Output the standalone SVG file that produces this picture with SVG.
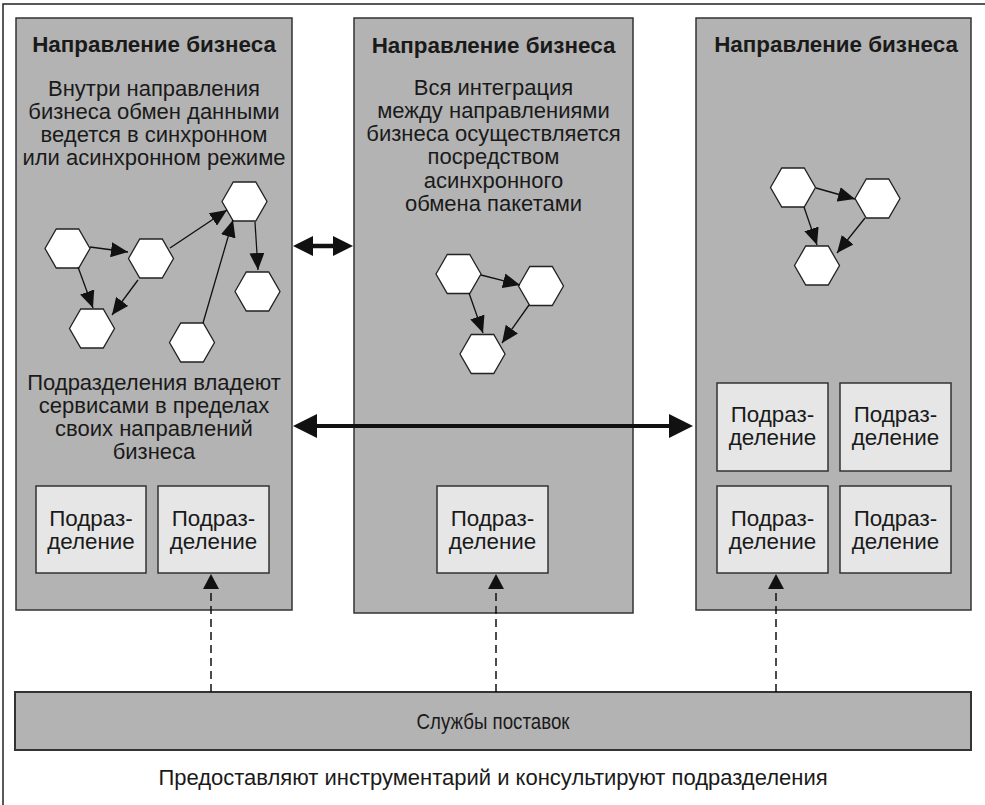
<svg xmlns="http://www.w3.org/2000/svg" xmlns:xlink="http://www.w3.org/1999/xlink" width="985" height="805" viewBox="0 0 985 805">
  <style>
    .frame { fill: none; stroke: #222; stroke-width: 1.5; }
    .panel { fill: #b3b3b3; stroke: #333; stroke-width: 1.5; }
    .unit { fill: #e6e6e6; stroke: #333; stroke-width: 1.5; }
    .bar { fill: #b3b3b3; stroke: #333; stroke-width: 2; }
    .hex { fill: #fff; stroke: #222; stroke-width: 1.3; }
    .title { font-family: "Liberation Sans", Arial, sans-serif; font-weight: bold; font-size: 22.4px; fill: #1a1a1a; text-anchor: middle; }
    .body { font-family: "Liberation Sans", Arial, sans-serif; font-size: 22px; fill: #1a1a1a; text-anchor: middle; }
    .small { font-family: "Liberation Sans", Arial, sans-serif; font-size: 22.4px; fill: #1a1a1a; text-anchor: middle; }
    .barlabel { font-family: "Liberation Sans", Arial, sans-serif; font-size: 22px; fill: #1a1a1a; text-anchor: middle; }
    .note { font-family: "Liberation Sans", Arial, sans-serif; font-size: 22px; fill: #1a1a1a; text-anchor: middle; }
    .link { stroke: #111; stroke-width: 1.3; fill: none; marker-end: url(#ah); }
    .dash { stroke: #111; stroke-width: 1.5; fill: none; stroke-dasharray: 8 5; marker-end: url(#ahd); }
    .thick { stroke: #111; fill: none; }
    .head { fill: #111; }
  </style>
  <defs>
    <polygon id="hex" points="-22.5,0 -11.25,-19.5 11.25,-19.5 22.5,0 11.25,19.5 -11.25,19.5"/>
    <marker id="ah" markerWidth="17" markerHeight="15" refX="17" refY="7.5" orient="auto" markerUnits="userSpaceOnUse">
      <path d="M0,0 L17,7.5 L0,15 Z" fill="#111"/>
    </marker>
    <marker id="ahd" markerWidth="16" markerHeight="16" refX="0" refY="8" orient="auto" markerUnits="userSpaceOnUse">
      <path d="M0,0 L15,8 L0,16 Z" fill="#111"/>
    </marker>
  </defs>

  <rect width="985" height="805" fill="#fff"/>
  <!-- outer frame (open to the right and bottom edges) -->
  <path class="frame" d="M985,4 H3 V805"/>

  <!-- business line 1 -->
  <g id="line-left">
    <rect class="panel" x="16" y="18" width="276" height="592"/>
    <text class="title" x="154" y="52">Направление бизнеса</text>
    <text class="body" x="154" y="95.5">Внутри направления</text>
    <text class="body" x="154" y="118.8">бизнеса обмен данными</text>
    <text class="body" x="154" y="142.1">ведется в синхронном</text>
    <text class="body" x="154" y="165.4">или асинхронном режиме</text>
    <use href="#hex" class="hex" x="67.5" y="248.5"/>
    <use href="#hex" class="hex" x="151" y="258.5"/>
    <use href="#hex" class="hex" x="92" y="328.5"/>
    <use href="#hex" class="hex" x="244.5" y="201.5"/>
    <use href="#hex" class="hex" x="257.5" y="291.5"/>
    <use href="#hex" class="hex" x="192" y="342.5"/>
    <text class="body" x="154" y="389.5">Подразделения владеют</text>
    <text class="body" x="154" y="412.8">сервисами в пределах</text>
    <text class="body" x="154" y="436.1">своих направлений</text>
    <text class="body" x="154" y="459.4">бизнеса</text>
  </g>
  <g id="unit-left-1">
    <rect class="unit" x="36" y="486" width="110" height="87"/>
    <text class="small" x="91" y="525.5">Подраз-</text>
    <text class="small" x="91" y="548.5">деление</text>
  </g>
  <g id="unit-left-2">
    <rect class="unit" x="158" y="486" width="111" height="87"/>
    <text class="small" x="213.5" y="525.5">Подраз-</text>
    <text class="small" x="213.5" y="548.5">деление</text>
  </g>

  <!-- business line 2 -->
  <g id="line-middle">
    <rect class="panel" x="354" y="18" width="279" height="595"/>
    <text class="title" x="493.5" y="52.5">Направление бизнеса</text>
    <text class="body" x="493.5" y="94.5">Вся интеграция</text>
    <text class="body" x="493.5" y="117.8">между направлениями</text>
    <text class="body" x="493.5" y="141.1">бизнеса осуществляется</text>
    <text class="body" x="493.5" y="164.4">посредством</text>
    <text class="body" x="493.5" y="187.7">асинхронного</text>
    <text class="body" x="493.5" y="211">обмена пакетами</text>
    <use href="#hex" class="hex" x="458.5" y="274"/>
    <use href="#hex" class="hex" x="541" y="286"/>
    <use href="#hex" class="hex" x="482.5" y="354"/>
  </g>
  <g id="unit-middle">
    <rect class="unit" x="437" y="486" width="111" height="87"/>
    <text class="small" x="492.5" y="525.5">Подраз-</text>
    <text class="small" x="492.5" y="548.5">деление</text>
  </g>

  <!-- business line 3 -->
  <g id="line-right">
    <rect class="panel" x="696" y="18" width="275" height="592"/>
    <text class="title" x="836" y="52">Направление бизнеса</text>
    <use href="#hex" class="hex" x="793" y="187.5"/>
    <use href="#hex" class="hex" x="877.5" y="198.5"/>
    <use href="#hex" class="hex" x="817" y="265.5"/>
  </g>
  <g id="unit-right-1">
    <rect class="unit" x="717" y="383" width="111" height="88"/>
    <text class="small" x="772.5" y="421.5">Подраз-</text>
    <text class="small" x="772.5" y="444.5">деление</text>
  </g>
  <g id="unit-right-2">
    <rect class="unit" x="840" y="383" width="111" height="88"/>
    <text class="small" x="895.5" y="421.5">Подраз-</text>
    <text class="small" x="895.5" y="444.5">деление</text>
  </g>
  <g id="unit-right-3">
    <rect class="unit" x="717" y="486" width="111" height="87"/>
    <text class="small" x="772.5" y="525.5">Подраз-</text>
    <text class="small" x="772.5" y="548.5">деление</text>
  </g>
  <g id="unit-right-4">
    <rect class="unit" x="840" y="486" width="111" height="87"/>
    <text class="small" x="895.5" y="525.5">Подраз-</text>
    <text class="small" x="895.5" y="548.5">деление</text>
  </g>

  <!-- delivery services -->
  <g id="delivery">
    <rect class="bar" x="15" y="692" width="956" height="58"/>
    <text class="barlabel" x="493" y="729" textLength="153" lengthAdjust="spacingAndGlyphs">Службы поставок</text>
  </g>

  <g id="caption">
    <text class="note" x="493" y="785">Предоставляют инструментарий и консультируют подразделения</text>
  </g>

  <g id="connectors">
    <!-- services inside line 1 -->
    <line class="link" x1="90" y1="247" x2="128" y2="252"/>
    <line class="link" x1="78" y1="267" x2="93" y2="308"/>
    <line class="link" x1="138" y1="280" x2="112" y2="315"/>
    <line class="link" x1="170" y1="248" x2="227" y2="210"/>
    <line class="link" x1="203" y1="323" x2="233" y2="220"/>
    <line class="link" x1="255" y1="222" x2="258" y2="270"/>
    <!-- services inside line 2 -->
    <line class="link" x1="481" y1="275" x2="520" y2="285"/>
    <line class="link" x1="469" y1="293" x2="483" y2="333"/>
    <line class="link" x1="529" y1="305" x2="502" y2="343"/>
    <!-- services inside line 3 -->
    <line class="link" x1="816" y1="188" x2="855" y2="199"/>
    <line class="link" x1="804" y1="207" x2="817" y2="245"/>
    <line class="link" x1="865" y1="218" x2="837" y2="253"/>

    <!-- integration between lines -->
    <line class="thick" x1="310" y1="246" x2="336" y2="246" stroke-width="4.5"/>
    <polygon class="head" points="293,246 313,236 313,256"/>
    <polygon class="head" points="353,246 333,236 333,256"/>
    <line class="thick" x1="314" y1="426" x2="672" y2="426" stroke-width="4"/>
    <polygon class="head" points="293,426 317,414 317,438"/>
    <polygon class="head" points="693,426 669,414 669,438"/>

    <!-- delivery services support -->
    <line class="dash" x1="211" y1="692" x2="211" y2="589"/>
    <line class="dash" x1="496" y1="692" x2="496" y2="589"/>
    <line class="dash" x1="776" y1="692" x2="776" y2="589"/>
  </g>
</svg>
